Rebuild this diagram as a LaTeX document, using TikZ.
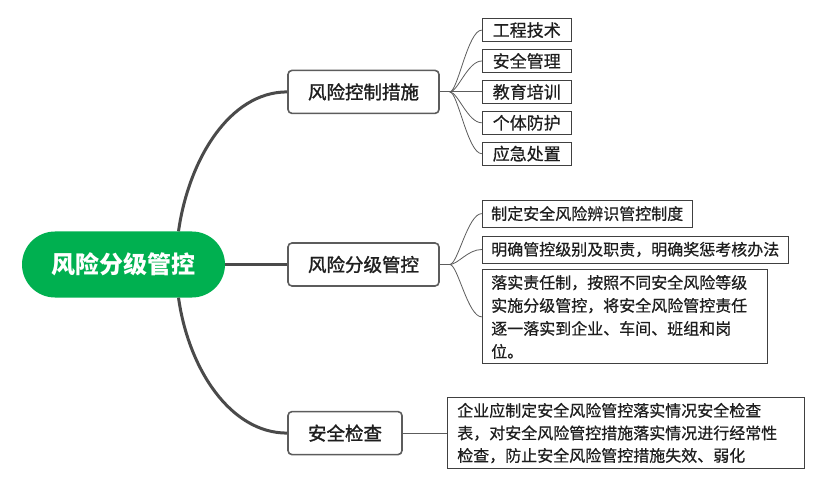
\documentclass[tikz,border=0pt]{standalone}
\usepackage{fontspec}
\setmainfont{Noto Sans CJK SC}
\newfontfamily\leaffont{Noto Sans CJK SC}[FakeBold=0.6]
\newfontfamily\branchfont{Noto Sans CJK SC}[FakeBold=1.4]
\usepackage{tikz}
\usetikzlibrary{positioning}
\definecolor{rootgreen}{HTML}{00B050}
\definecolor{wire}{HTML}{4A4A4A}
\definecolor{frame}{HTML}{5C5C5C}
\definecolor{ink}{HTML}{1E1E1E}
\tikzset{
  root/.style={rectangle, fill=rootgreen, text=white, rounded corners=33pt,
               minimum width=203pt, minimum height=66pt, font=\fontsize{24}{28}\selectfont\bfseries},
  branch/.style={rectangle, draw=frame, line width=1.6pt, rounded corners=4pt, fill=white,
                 minimum height=43pt, inner xsep=20pt, font=\branchfont\fontsize{18.5}{22}\selectfont, text=ink},
  leaf/.style={rectangle, draw=ink!85, line width=0.9pt, minimum height=27pt, inner xsep=9pt,
               font=\leaffont\fontsize{16}{23}\selectfont, text=ink, align=left},
  item/.style={leaf, minimum width=89pt, minimum height=23pt, align=center, font=\leaffont\fontsize{17}{20}\selectfont},
  trunk/.style={draw=wire, line width=3pt},
  twig/.style={draw=wire!90, line width=0.8pt},
}
\begin{document}
\begin{tikzpicture}[x=1pt, y=-1pt, node distance=7pt and 42pt]
    \useasboundingbox (0,0) rectangle (822,489);
    \node[root] (root) at (123.5,264.5) {风险分级管控};
    \node[branch, right=62pt of root] (grade) {风险分级管控};
    \node[branch, above=128pt of grade] (ctrl) {风险控制措施};
    \node[branch, below=124pt of grade.south west, anchor=north west] (check) {安全检查};
    % control measures
    \node[item, right=of ctrl] (c3) {教育培训};
    \node[item, above=of c3] (c2) {安全管理};
    \node[item, above=of c2] (c1) {工程技术};
    \node[item, below=of c3] (c4) {个体防护};
    \node[item, below=of c4] (c5) {应急处置};
    % graded control
    \node[leaf, anchor=west] (g2) at ([xshift=42pt, yshift=15pt]grade.east) {明确管控级别及职责，明确奖惩考核办法};
    \node[leaf, above=8pt of g2.north west, anchor=south west] (g1) {制定安全风险辨识管控制度};
    \node[leaf, below=6pt of g2.south west, anchor=north west, text width=267pt, minimum height=94pt] (g3)
      {落实责任制，按照不同安全风险等级\\实施分级管控，将安全风险管控责任\\逐一落实到企业、车间、班组和岗\\位。};
    % inspection
    \node[leaf, right=44pt of check, text width=337pt, inner xsep=10pt, minimum height=71pt,
          font=\leaffont\fontsize{16}{22.5}\selectfont] (chk)
      {企业应制定安全风险管控落实情况安全检查\\表，对安全风险管控措施落实情况进行经常性\\检查，防止安全风险管控措施失效、弱化};
    % trunks
    \draw[trunk] (root.east) -- (grade.west);
    \draw[trunk] ([xshift=55pt]root.north) .. controls +(10,-71) and +(-58,0) .. (ctrl.west);
    \draw[trunk] ([xshift=55pt]root.south) .. controls +(10,71) and +(-57,0) .. (check.west);
    % twigs
    \coordinate[right=10pt of ctrl] (cfork);
    \coordinate[right=10pt of grade] (gfork);
    \draw[twig] (ctrl.east) -- (cfork);
    \draw[twig] (grade.east) -- (gfork);
    \foreach \n in {c1,c2,c3,c4,c5}
      \draw[twig] (cfork) .. controls +(8,0) and +(-14,0) .. (\n.west);
    \foreach \n in {g1,g2,g3}
      \draw[twig] (gfork) .. controls +(8,0) and +(-14,0) .. (\n.west);
    \draw[twig] (check.east) -- (chk.west);
\end{tikzpicture}
\end{document}
